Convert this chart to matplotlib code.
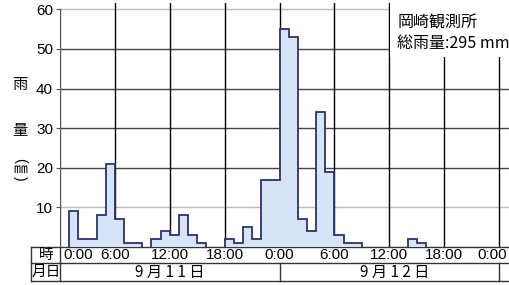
import numpy as np
import matplotlib
matplotlib.use('Agg')
import matplotlib.pyplot as plt
import matplotlib.transforms as mtransforms
from matplotlib.patches import Rectangle

plt.rcParams['font.family'] = ['Liberation Sans', 'Noto Sans CJK JP', 'DejaVu Sans']
cjk = ['Noto Sans CJK JP', 'DejaVu Sans']

# hourly rainfall (mm), 9/11 0:00 - 9/13 0:00
hours = np.arange(49)
rain = [0, 9, 2, 2, 8, 21, 7, 1, 1, 0, 2, 4, 3, 8, 3, 1, 0, 0,
        2, 1, 5, 2, 17, 17, 55, 53, 7, 4, 34, 19, 3, 1, 1, 0, 0, 0,
        0, 0, 2, 1, 0, 0, 0, 0, 0, 0, 0, 0]
yticks = [10, 20, 30, 40, 50, 60]
time_pos = [2.0, 6, 12, 18, 24, 30, 36, 42, 47.2]
time_labels = ['0:00', '6:00', '12:00', '18:00', '0:00', '6:00', '12:00', '18:00', '0:00']
days = ['9 月 1 1 日', '9 月 1 2 日']
day_pos = [12, 36.6]
station = '岡崎観測所'
total = '総雨量:295 mm'

fig = plt.figure(figsize=(5.1, 2.85), dpi=100)
ax = fig.add_axes([60/510, 38/285, 450/510, 244/285])
ax.set_xlim(0, 49.2)
ax.set_ylim(0, 61.6)

# grid
for y in yticks:
    c = '#bbbbbb' if y in (10, 60) else '#444444'
    ax.axhline(y, color=c, lw=1, zorder=1)
for x in range(6, 49, 6):
    ax.axvline(x, color='black', lw=1, zorder=1)
ax.axvline(0, ymax=60/61.6, color='#555555', lw=1, zorder=4)

# one outlined step block for each run of rainy hours
r = np.array(rain)
i = 0
while i < len(r):
    if r[i] > 0:
        j = i
        while j < len(r) and r[j] > 0:
            j += 1
        ax.stairs(r[i:j], hours[i:j+1], fill=True, facecolor='#d5e4f6',
                  edgecolor='#30306e', lw=1.3, zorder=3)
        i = j
    else:
        i += 1

for s in ax.spines.values():
    s.set_visible(False)
ax.set_xticks([])
ax.set_yticks(yticks)
ax.set_yticklabels([str(v) for v in yticks], fontsize=11)
ax.tick_params(axis='y', length=3, width=0.8, color='#555555', pad=2)

# white box with station name
ax.add_patch(Rectangle((36.1, 48.0), 14, 14, facecolor='white', edgecolor='none', zorder=5))
ax.text(36.9, 56.6, station, fontsize=11.5, family=cjk, va='center', zorder=6)
ax.text(36.9, 51.3, total, fontsize=11.5, family=cjk, va='center', zorder=6)

# y label
fig.text(20/510, 1-85/285, '雨', fontsize=11, family=cjk, ha='center', va='center')
fig.text(20/510, 1-130/285, '量', fontsize=11, family=cjk, ha='center', va='center')
fig.text(20/510, 1-160/285, '(', fontsize=10, rotation=-90, ha='center', va='center')
fig.text(20/510, 1-169/285, '㎜', fontsize=10, family=cjk, ha='center', va='center')
fig.text(20/510, 1-178/285, ')', fontsize=10, rotation=-90, ha='center', va='center')

# table under the plot
tr = mtransforms.blended_transform_factory(ax.transData, ax.transAxes)
r1 = -16/244
r2 = -34/244
xl = -3.2
lk = dict(color='#333333', lw=1, transform=tr, clip_on=False)
ax.plot([xl, 50], [0, 0], **lk)
ax.plot([xl, 50], [r1, r1], **lk)
ax.plot([xl, 50], [r2, r2], **lk)
ax.plot([xl, xl], [0, r2], **lk)
ax.plot([0, 0], [0, r2], **lk)
ax.plot([24, 24], [r1, r2], **lk)
ax.plot([48, 48], [r1, r2], **lk)

ax.text(-1.5, r1/2, '時', fontsize=10.5, family=cjk, ha='center', va='center',
        transform=tr)
ax.text(-1.5, (r1+r2)/2, '月日', fontsize=10.5, family=cjk, ha='center', va='center',
        transform=tr)
for p, lab in zip(time_pos, time_labels):
    ax.text(p, r1/2, lab, fontsize=11, ha='center', va='center', transform=tr)
for p, lab in zip(day_pos, days):
    ax.text(p, (r1+r2)/2, lab, fontsize=11, family=cjk, ha='center', va='center',
            transform=tr)

fig.savefig('out.png', dpi=100)
